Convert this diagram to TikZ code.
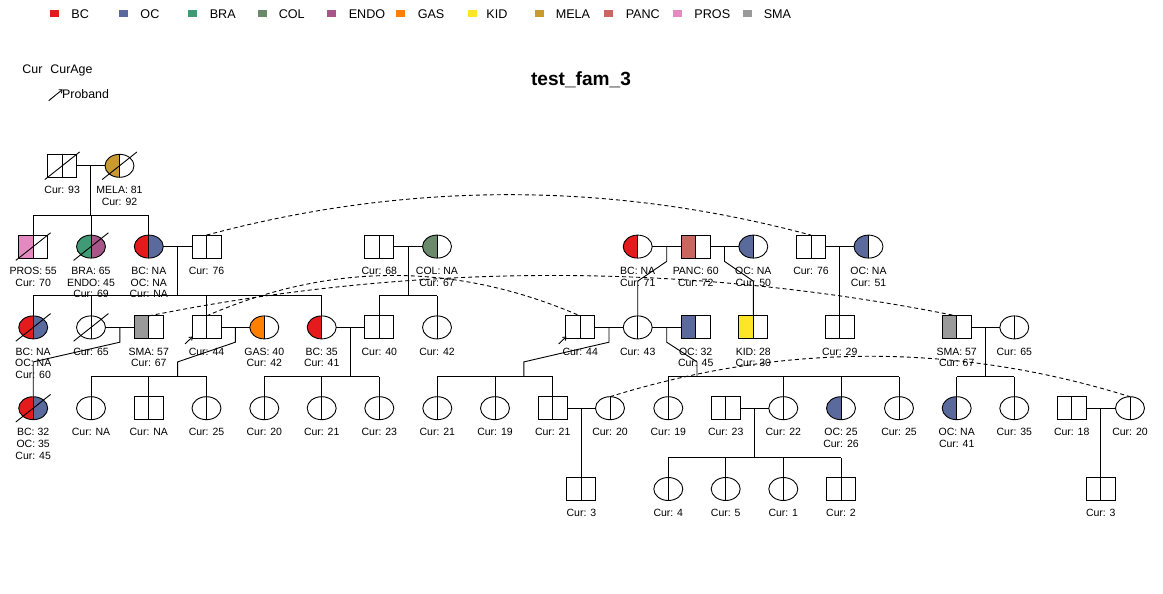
\documentclass[tikz,border=0pt]{standalone}
\usepackage{fontspec}
\setmainfont{Liberation Sans}
\usetikzlibrary{calc,shapes.geometric,arrows.meta}
\definecolor{cBC}{HTML}{E41A1C}
\definecolor{cOC}{HTML}{5B6A9C}
\definecolor{cBRA}{HTML}{3F9A75}
\definecolor{cCOL}{HTML}{6B8A6C}
\definecolor{cENDO}{HTML}{A8568A}
\definecolor{cGAS}{HTML}{FF7F00}
\definecolor{cKID}{HTML}{FFE528}
\definecolor{cMELA}{HTML}{C99A2E}
\definecolor{cPANC}{HTML}{C8665F}
\definecolor{cPROS}{HTML}{E48AC0}
\definecolor{cSMA}{HTML}{9A9A9A}
\newcommand\lfont{\fontsize{10.5}{11.7}\selectfont}
\newcommand\gfont{\fontsize{12.6}{15}\selectfont}
\newcommand\deadslash[1]{\draw ([shift={(-17.4,13.8)}]#1.center) -- ([shift={(17.4,-13.8)}]#1.center);}
\newcommand\probarrow[1]{\draw[parrow] ([shift={(-21.5,16.5)}]#1.center) -- ([shift={(-13.8,9.2)}]#1.center);}
\newcommand\duparc[2]{\draw[dline] (#1.north) .. controls ($(#1.north)!0.3333!(#2.north)+(0,-53.9)$) and ($(#1.north)!0.6667!(#2.north)+(0,-53.9)$) .. (#2.north);}
\newcommand\pedlab[2]{\node[lab] (#1t) at ([yshift=-8.5pt]#1.south) {#2};}
\begin{document}
\begin{tikzpicture}[x=1pt,y=-1pt,line width=0.9pt,
  pp/.style 2 args={path picture={
    \fill[#1] (path picture bounding box.south west) rectangle (path picture bounding box.north);
    \fill[#2] (path picture bounding box.south) rectangle (path picture bounding box.north east);
    \draw[line width=0.9pt] (path picture bounding box.north) -- (path picture bounding box.south);}},
  pers/.style={draw, inner sep=0pt, outer sep=0pt, minimum width=29pt, minimum height=23pt, pp={white}{white}},
  male/.style={pers, rectangle},
  female/.style={pers, ellipse},
  lab/.style={font=\lfont, align=center, inner sep=0pt, anchor=north},
  dline/.style={dash pattern=on 4pt off 3pt},
  parrow/.style={-{Straight Barb[length=2.8pt,width=4.5pt]}},
  lsq/.style={fill, draw=none, minimum width=9pt, minimum height=7pt, inner sep=0pt},
  ltx/.style={font=\gfont, anchor=base west, inner sep=0pt}]
\useasboundingbox (0,0) rectangle (1163,594);
\fill[white] (0,0) rectangle (1163,594);

% ---------- legend ----------
\node[lsq, fill=cBC]   (q1)  at (54.5,13.8) {};  \node[ltx] (t1)  at (71,19) {BC};
\node[lsq, fill=cOC]   (q2)  at (123.5,13.8) {}; \node[ltx] (t2)  at (140,19) {OC};
\node[lsq, fill=cBRA]  (q3)  at (192.8,13.8) {}; \node[ltx] (t3)  at (209.3,19) {BRA};
\node[lsq, fill=cCOL]  (q4)  at (262.8,13.8) {}; \node[ltx] (t4)  at (278.3,19) {COL};
\node[lsq, fill=cENDO] (q5)  at (331.2,13.8) {}; \node[ltx] (t5)  at (348.3,19) {ENDO};
\node[lsq, fill=cGAS]  (q6)  at (400.5,13.8) {}; \node[ltx] (t6)  at (417.3,19) {GAS};
\node[lsq, fill=cKID]  (q7)  at (472.8,13.8) {}; \node[ltx] (t7)  at (486,19) {KID};
\node[lsq, fill=cMELA] (q8)  at (539.5,13.8) {}; \node[ltx] (t8)  at (555.3,19) {MELA};
\node[lsq, fill=cPANC] (q9)  at (608.5,13.8) {}; \node[ltx] (t9)  at (625.3,19) {PANC};
\node[lsq, fill=cPROS] (q10) at (677.8,13.8) {}; \node[ltx] (t10) at (694,19) {PROS};
\node[lsq, fill=cSMA]  (q11) at (747.2,13.8) {}; \node[ltx] (t11) at (763.3,19) {SMA};

\node[ltx, font=\fontsize{12.4}{15}\selectfont] (lcur) at (22,74) {Cur};
\node[ltx, font=\fontsize{12.4}{15}\selectfont] (lcurage) at (50,74) {CurAge};
\node[ltx, font=\fontsize{12.4}{15}\selectfont] (lprob) at (61.7,98.3) {Proband};
\coordinate (pa) at (48.7,100.7);
\coordinate (pb) at (62.7,89.3);
\draw[parrow] (pa) -- (pb);

\node[font=\bfseries\fontsize{19.1}{22}\selectfont, anchor=base, inner sep=0pt] (title) at (581,85) {test\_fam\_3};

% ---------- generation 1 ----------
\node[male] (a1) at (62.2,165.8) {};
\node[female, pp={cMELA}{white}] (a2) at (119.5,165.8) {};

% ---------- generation 2 ----------
\node[male, pp={cPROS}{white}] (b1) at (33.2,246.6) {};
\node[female, pp={cBRA}{cENDO}] (b2) at (91,246.6) {};
\node[female, pp={cBC}{cOC}] (b3) at (148.8,246.6) {};
\node[male] (b4) at (206.5,246.6) {};
\node[male] (b5) at (379.3,246.6) {};
\node[female, pp={cCOL}{white}] (b6) at (437,246.6) {};
\node[female, pp={cBC}{white}] (b7) at (637.7,246.6) {};
\node[male, pp={cPANC}{white}] (b8) at (695.7,246.6) {};
\node[female, pp={cOC}{white}] (b9) at (753.3,246.6) {};
\node[male] (b10) at (811,246.6) {};
\node[female, pp={cOC}{white}] (b11) at (868.5,246.6) {};

% ---------- generation 3 ----------
\node[female, pp={cBC}{cOC}] (c1) at (33.2,327.4) {};
\node[female] (c2) at (91,327.4) {};
\node[male, pp={cSMA}{white}] (c3) at (148.8,327.4) {};
\node[male] (c4) at (206.5,327.4) {};
\node[female, pp={cGAS}{white}] (c5) at (264.3,327.4) {};
\node[female, pp={cBC}{white}] (c6) at (321.7,327.4) {};
\node[male] (c7) at (379.3,327.4) {};
\node[female] (c8) at (437,327.4) {};
\node[male] (c9) at (580.2,327.4) {};
\node[female] (c10) at (637.7,327.4) {};
\node[male, pp={cOC}{white}] (c11) at (695.7,327.4) {};
\node[male, pp={cKID}{white}] (c12) at (753.3,327.4) {};
\node[male] (c13) at (839.7,327.4) {};
\node[male, pp={cSMA}{white}] (c14) at (956.7,327.4) {};
\node[female] (c15) at (1014.3,327.4) {};

% ---------- generation 4 ----------
\node[female, pp={cBC}{cOC}] (d1) at (33.2,408.2) {};
\node[female] (d2) at (91,408.2) {};
\node[male] (d3) at (148.8,408.2) {};
\node[female] (d4) at (206.5,408.2) {};
\node[female] (d5) at (264.3,408.2) {};
\node[female] (d6) at (321.7,408.2) {};
\node[female] (d7) at (379.3,408.2) {};
\node[female] (d8) at (437.3,408.2) {};
\node[female] (d9) at (495,408.2) {};
\node[male] (d10) at (552.7,408.2) {};
\node[female] (d11) at (610,408.2) {};
\node[female] (d12) at (668.3,408.2) {};
\node[male] (d13) at (725.7,408.2) {};
\node[female] (d14) at (783.3,408.2) {};
\node[female, pp={cOC}{white}] (d15) at (841,408.2) {};
\node[female] (d16) at (899,408.2) {};
\node[female, pp={cOC}{white}] (d17) at (956.7,408.2) {};
\node[female] (d18) at (1014.3,408.2) {};
\node[male] (d19) at (1071.7,408.2) {};
\node[female] (d20) at (1130,408.2) {};

% ---------- generation 5 ----------
\node[male] (e1) at (581.4,489) {};
\node[female] (e2) at (668.3,489) {};
\node[female] (e3) at (725.7,489) {};
\node[female] (e4) at (783.3,489) {};
\node[male] (e5) at (841,489) {};
\node[male] (e6) at (1100.8,489) {};

% ---------- deceased / proband ----------
\deadslash{a1}\deadslash{a2}\deadslash{b1}\deadslash{b2}
\deadslash{c1}\deadslash{c2}\deadslash{d1}
\probarrow{c4}\probarrow{c9}

% ---------- labels ----------
\pedlab{a1}{Cur: 93}
\pedlab{a2}{MELA: 81\\Cur: 92}
\pedlab{b1}{PROS: 55\\Cur: 70}
\pedlab{b2}{BRA: 65\\ENDO: 45\\Cur: 69}
\pedlab{b3}{BC: NA\\OC: NA\\Cur: NA}
\pedlab{b4}{Cur: 76}
\pedlab{b5}{Cur: 68}
\pedlab{b6}{COL: NA\\Cur: 67}
\pedlab{b7}{BC: NA\\Cur: 71}
\pedlab{b8}{PANC: 60\\Cur: 72}
\pedlab{b9}{OC: NA\\Cur: 50}
\pedlab{b10}{Cur: 76}
\pedlab{b11}{OC: NA\\Cur: 51}
\pedlab{c1}{BC: NA\\OC: NA\\Cur: 60}
\pedlab{c2}{Cur: 65}
\pedlab{c3}{SMA: 57\\Cur: 67}
\pedlab{c4}{Cur: 44}
\pedlab{c5}{GAS: 40\\Cur: 42}
\pedlab{c6}{BC: 35\\Cur: 41}
\pedlab{c7}{Cur: 40}
\pedlab{c8}{Cur: 42}
\pedlab{c9}{Cur: 44}
\pedlab{c10}{Cur: 43}
\pedlab{c11}{OC: 32\\Cur: 45}
\pedlab{c12}{KID: 28\\Cur: 30}
\pedlab{c13}{Cur: 29}
\pedlab{c14}{SMA: 57\\Cur: 67}
\pedlab{c15}{Cur: 65}
\pedlab{d1}{BC: 32\\OC: 35\\Cur: 45}
\pedlab{d2}{Cur: NA}
\pedlab{d3}{Cur: NA}
\pedlab{d4}{Cur: 25}
\pedlab{d5}{Cur: 20}
\pedlab{d6}{Cur: 21}
\pedlab{d7}{Cur: 23}
\pedlab{d8}{Cur: 21}
\pedlab{d9}{Cur: 19}
\pedlab{d10}{Cur: 21}
\pedlab{d11}{Cur: 20}
\pedlab{d12}{Cur: 19}
\pedlab{d13}{Cur: 23}
\pedlab{d14}{Cur: 22}
\pedlab{d15}{OC: 25\\Cur: 26}
\pedlab{d16}{Cur: 25}
\pedlab{d17}{OC: NA\\Cur: 41}
\pedlab{d18}{Cur: 35}
\pedlab{d19}{Cur: 18}
\pedlab{d20}{Cur: 20}
\pedlab{e1}{Cur: 3}
\pedlab{e2}{Cur: 4}
\pedlab{e3}{Cur: 5}
\pedlab{e4}{Cur: 1}
\pedlab{e5}{Cur: 2}
\pedlab{e6}{Cur: 3}

% ---------- marriage lines ----------
\draw (a1.east) -- (a2.west);
\draw (b3.east) -- (b4.west);
\draw (b5.east) -- (b6.west);
\draw (b7.east) -- (b8.west);
\draw (b8.east) -- (b9.west);
\draw (b10.east) -- (b11.west);
\draw (c2.east) -- (c3.west);
\draw (c4.east) -- (c5.west);
\draw (c6.east) -- (c7.west);
\draw (c9.east) -- (c10.west);
\draw (c10.east) -- (c11.west);
\draw (c14.east) -- (c15.west);
\draw (d10.east) -- (d11.west);
\draw (d13.east) -- (d14.west);
\draw (d19.east) -- (d20.west);

% ---------- families ----------
% F1
\coordinate (m1) at ($(a1)!0.5!(a2)$);
\coordinate (k1) at ($(m1)+(0,49.3)$);
\draw (m1) -- (k1);
\draw (b1.north |- k1) -- (b3.north |- k1);
\foreach \n in {b1,b2,b3} \draw (\n.north) -- (\n.north |- k1);
% F2
\coordinate (m2) at ($(b3)!0.5!(b4)$);
\coordinate (k2) at ($(m2)+(0,49.3)$);
\draw (m2) -- (k2);
\draw (c1.north |- k2) -- (c6.north |- k2);
\foreach \n in {c1,c2,c4,c6} \draw (\n.north) -- (\n.north |- k2);
% F3
\coordinate (m3) at ($(b5)!0.5!(b6)$);
\coordinate (k3) at ($(m3)+(0,49.3)$);
\draw (m3) -- (k3);
\draw (c7.north |- k3) -- (c8.north |- k3);
\foreach \n in {c7,c8} \draw (\n.north) -- (\n.north |- k3);
% F4
\coordinate (m4) at ($(b7)!0.5!(b8)$);
\coordinate (k4) at ($(c10.north)+(0,-20)$);
\draw (m4) -- ++(0,14.8) -- ($(k4)+(0,-14.8)$) -- (k4) -- (c10.north);
% F5
\coordinate (m5) at ($(b8)!0.5!(b9)$);
\coordinate (k5) at ($(c12.north)+(0,-20)$);
\draw (m5) -- ++(0,14.8) -- ($(k5)+(0,-14.8)$) -- (k5) -- (c12.north);
% F6
\coordinate (m6) at ($(b10)!0.5!(b11)$);
\draw (m6) -- (m6 |- c13.north);
% F7
\coordinate (m7) at ($(c2)!0.5!(c3)$);
\coordinate (k7) at ($(d1.north)+(0,-20)$);
\draw (m7) -- ++(0,14.8) -- ($(k7)+(0,-14.8)$) -- (k7) -- (d1.north);
% F8
\coordinate (m8) at ($(c4)!0.5!(c5)$);
\coordinate (k8) at (177.65,376.7);
\draw (m8) -- ++(0,14.8) -- ($(k8)+(0,-14.8)$) -- (k8);
\draw (d2.north |- k8) -- (d4.north |- k8);
\foreach \n in {d2,d3,d4} \draw (\n.north) -- (\n.north |- k8);
% F9
\coordinate (m9) at ($(c6)!0.5!(c7)$);
\coordinate (k9) at ($(m9)+(0,49.3)$);
\draw (m9) -- (k9);
\draw (d5.north |- k9) -- (d7.north |- k9);
\foreach \n in {d5,d6,d7} \draw (\n.north) -- (\n.north |- k9);
% F10
\coordinate (m10) at ($(c9)!0.5!(c10)$);
\coordinate (k10) at (523.9,376.7);
\draw (m10) -- ++(0,14.8) -- ($(k10)+(0,-14.8)$) -- (k10);
\draw (d8.north |- k10) -- (d10.north |- k10);
\foreach \n in {d8,d9,d10} \draw (\n.north) -- (\n.north |- k10);
% F11
\coordinate (m11) at ($(c10)!0.5!(c11)$);
\coordinate (k11) at (697,376.7);
\draw (m11) -- ++(0,14.8) -- ($(k11)+(0,-14.8)$) -- (k11);
\draw (d12.north |- k11) -- (d16.north |- k11);
\foreach \n in {d12,d14,d15,d16} \draw (\n.north) -- (\n.north |- k11);
% F12
\coordinate (m12) at ($(c14)!0.5!(c15)$);
\coordinate (k12) at ($(m12)+(0,49.3)$);
\draw (m12) -- (k12);
\draw (d17.north |- k12) -- (d18.north |- k12);
\foreach \n in {d17,d18} \draw (\n.north) -- (\n.north |- k12);
% F13
\coordinate (m13) at ($(d10)!0.5!(d11)$);
\draw (m13) -- (m13 |- e1.north);
% F14
\coordinate (m14) at ($(d13)!0.5!(d14)$);
\coordinate (k14) at ($(m14)+(0,49.3)$);
\draw (m14) -- (k14);
\draw (e2.north |- k14) -- (e5.north |- k14);
\foreach \n in {e2,e3,e4,e5} \draw (\n.north) -- (\n.north |- k14);
% F15
\coordinate (m15) at ($(d19)!0.5!(d20)$);
\draw (m15) -- (m15 |- e6.north);

% ---------- duplicate links ----------
\duparc{b4}{b10}
\duparc{c3}{c14}
\duparc{c4}{c9}
\duparc{d11}{d20}
\end{tikzpicture}
\end{document}
